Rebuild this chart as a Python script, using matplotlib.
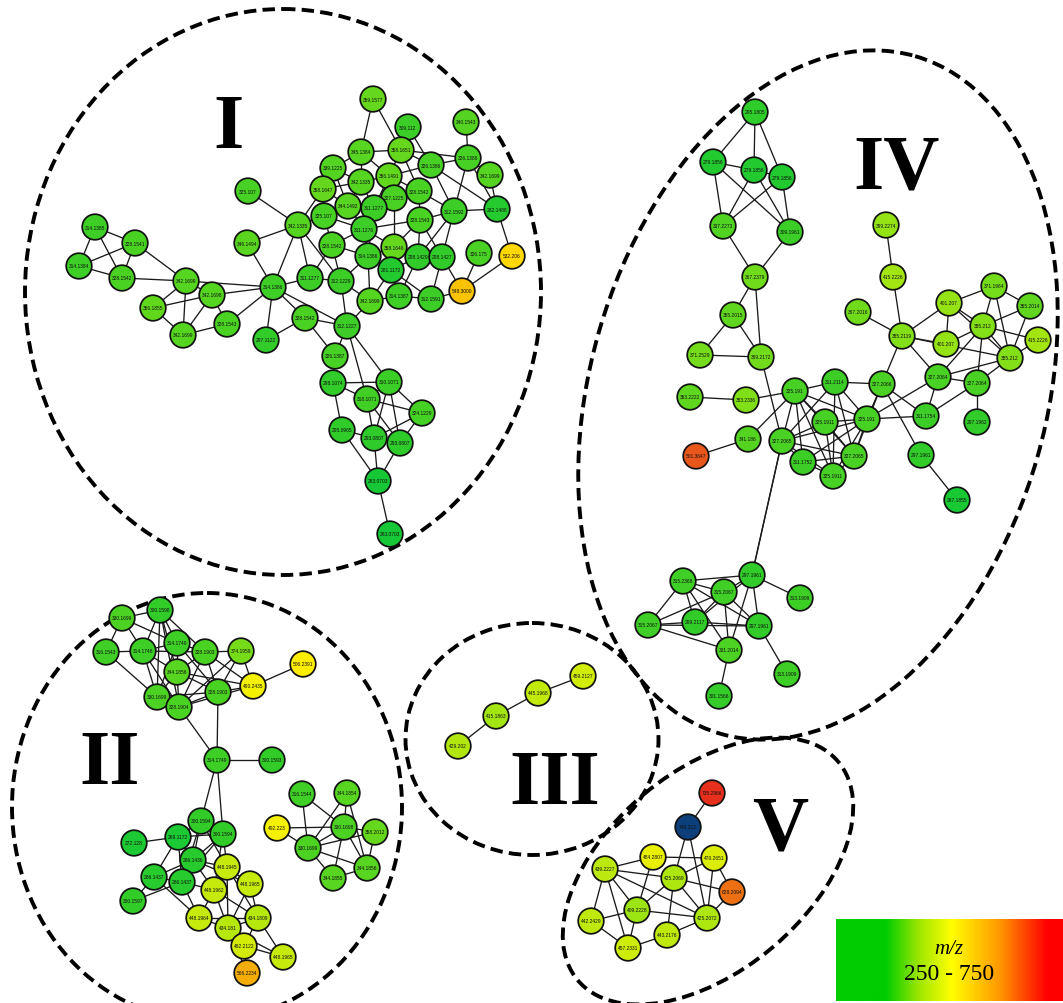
import matplotlib
matplotlib.use("Agg")
import matplotlib.pyplot as plt
from matplotlib.patches import Ellipse, Circle
from matplotlib.colors import LinearSegmentedColormap, Normalize
import numpy as np

# ---------------- data ----------------
# Cluster I
I_labels = ["314.1385","328.1541","314.1384","328.1542","342.1699","342.1698","356.1855","328.1543","342.1699",
            "325.107","346.1494","342.1335","314.1386","311.1277","312.1229","328.1542","312.1227","297.1122",
            "359.1577","309.112","340.1543","345.1384","358.1651","326.1386","326.1386","342.1699","339.1225",
            "342.1335","356.1491","358.1647","328.1542","327.1225","344.1492","311.1277","312.1592","282.1488",
            "325.107","328.1543","311.1276","328.1542","358.1646","314.1386","298.1429","298.1427","326.175",
            "532.206","281.1172","548.3000","342.1699","314.1387","312.1591","326.1387","298.1074","310.1071",
            "318.1071","324.1229","295.0965","293.0807","293.0807","263.0703","263.0703"]
I_x = [95,135,79,122,186,212,153,227,183,248,247,298,273,310,341,305,347,266,373,408,466,361,401,431,468,490,333,
       361,389,323,419,394,348,374,454,497,324,420,364,332,394,368,418,442,479,512,391,462,370,399,431,335,333,389,
       367,422,342,374,400,378,390]
I_y = [228,244,267,279,282,296,309,325,336,192,244,226,288,279,282,319,327,341,100,128,123,153,151,166,159,176,169,
       183,177,190,192,199,207,209,212,210,217,221,230,246,248,257,258,258,254,257,271,292,302,297,300,357,384,383,
       400,414,431,439,444,482,535]
I_edges = [(1,2),(1,3),(1,4),(3,2),(3,4),(2,4),(2,5),(4,5),(5,6),(5,7),(5,9),(5,13),(6,7),(6,9),(6,8),(6,13),(7,9),
           (9,8),(8,13),(10,12),(11,12),(11,13),(12,13),(12,15),(13,14),(13,16),(13,18),(13,17),(14,15),(16,17),
           (16,18),(16,52),(17,52),(17,54),(17,55),(17,49),(15,17),(14,40),(15,42),(12,30),(12,37),(12,14),
           (19,22),(19,23),(20,23),(20,24),(21,25),(22,27),(22,23),(22,28),(22,29),(23,24),(23,25),(23,29),(23,31),
           (24,25),(24,29),(24,35),(25,26),(25,35),(25,36),(24,36),(26,36),(27,28),(27,30),(27,33),(28,29),(28,30),
           (28,33),(28,34),(29,31),(29,32),(29,34),(30,37),(30,33),(31,32),(31,38),(31,35),(32,34),(32,39),(32,41),
           (33,37),(33,34),(33,39),(34,39),(34,42),(35,36),(35,38),(35,43),(35,44),(36,46),(37,39),(37,40),(38,39),
           (38,43),(38,41),(38,44),(39,40),(39,42),(39,41),(40,42),(40,15),(41,42),(41,47),(41,43),(42,47),(42,49),
           (43,44),(43,47),(43,50),(44,51),(44,48),(45,48),(46,48),(47,49),(47,50),(47,51),(49,50),(50,51),(51,48),
           (15,49),(52,53),(53,54),(53,55),(53,57),(54,55),(54,56),(54,58),(54,59),(55,58),(55,59),(55,56),(56,58),
           (56,59),(57,58),(57,60),(58,59),(58,60),(59,60),(60,61)]

# Cluster IV
IV_labels = ["295.1805","279.1856","279.1856","279.1856","337.2273","309.1961","367.2379","355.2015","371.2529",
             "369.2172","399.2274","415.2226","367.2016","385.2119","401.207","401.207","371.1964","355.2014",
             "385.212","415.2226","385.212","327.2064","327.2064","297.1962","327.2066","311.2114","325.191",
             "353.2222","383.2336","311.1754","325.1911","325.191","341.186","327.2065","501.3647","327.2065",
             "297.1961","311.1752","325.1911","267.1855","315.2368","297.1961","315.2067","313.1909","315.2067",
             "299.2117","297.1961","331.2014","313.1909","301.1566"]
IV_x = [755,713,754,782,723,790,755,733,700,761,886,893,858,902,949,946,994,1030,983,1038,1010,938,977,977,882,835,
        795,690,746,926,825,867,748,782,696,854,921,803,833,957,683,752,724,800,648,695,759,729,787,719]
IV_y = [113,163,171,178,227,233,278,316,356,358,226,278,313,337,304,345,287,307,327,341,359,378,384,423,385,383,
        392,398,401,417,423,420,440,442,457,457,456,463,477,501,582,576,593,599,626,623,627,651,675,697]
IV_edges = [(1,2),(1,3),(1,4),(2,3),(2,5),(2,6),(3,4),(3,5),(3,6),(4,5),(4,6),(5,7),(6,7),(7,8),(7,10),(8,9),(8,10),
            (9,10),(10,34),(11,12),(12,14),(13,14),(14,15),(14,16),(14,21),(14,22),(14,25),(15,16),(15,17),(15,19),
            (15,21),(16,19),(17,18),(17,19),(17,21),(18,19),(18,21),(19,20),(19,21),(19,22),(19,23),(20,21),(21,22),
            (21,23),(22,23),(22,30),(22,32),(23,24),(23,30),(25,26),(25,32),(25,36),(25,30),(25,37),(26,27),(26,32),
            (26,39),(26,36),(26,34),(27,29),(27,31),(27,32),(27,33),(27,34),(27,36),(27,38),(27,39),(28,29),(31,32),
            (31,34),(31,36),(31,39),(32,34),(32,36),(32,38),(32,39),(32,30),(33,35),(34,36),(34,38),(34,39),(36,38),
            (36,39),(38,39),(34,42),(37,40),(41,42),(41,43),(41,45),(41,46),(41,47),(41,48),(42,43),(42,44),(42,46),
            (42,47),(42,48),(43,45),(43,46),(43,47),(43,48),(45,46),(45,47),(45,48),(46,47),(47,49),(48,50)]

# Cluster II
II_labels = ["330.1699","300.1598","316.1543","314.1748","314.1749","328.1903","374.1959","506.2391","344.1856",
             "490.2435","330.1699","328.1903","328.1904","314.1749","300.1593","316.1544","344.1854","300.1594",
             "492.223","330.1698","358.2012","269.1172","300.1594","272.128","330.1699","286.1436","448.1945",
             "286.1437","286.1437","448.1962","448.1965","344.1856","344.1855","300.1597","448.1964","434.1809",
             "434.181","462.2122","448.1965","566.2234"]
II_x = [122,160,106,143,177,205,241,303,177,253,157,218,179,217,272,302,347,201,277,344,375,178,223,134,308,193,
        227,154,182,214,250,367,333,133,199,258,228,244,283,247]
II_y = [619,611,653,652,644,653,652,665,673,687,698,693,708,761,761,795,794,822,829,828,833,838,835,844,849,861,
        868,878,883,891,885,869,879,902,919,919,929,947,958,974]
II_edges = [(1,2),(1,4),(1,5),(2,4),(2,5),(2,9),(2,11),(2,13),(2,6),(3,4),(3,1),(3,11),(4,5),(4,6),(4,9),(4,11),
            (4,13),(5,6),(5,9),(5,11),(5,12),(6,7),(6,9),(6,12),(6,13),(6,10),(7,12),(7,10),(7,13),(9,11),(9,12),
            (9,13),(9,10),(10,8),(10,12),(10,13),(11,13),(11,12),(12,13),(12,14),(13,14),(14,15),(14,18),(14,23),
            (18,22),(18,23),(18,26),(18,27),(18,29),(22,23),(22,24),(22,26),(22,28),(22,29),(23,26),(23,27),(23,29),
            (23,30),(26,27),(26,28),(26,29),(26,30),(26,31),(27,30),(27,31),(27,36),(27,37),(28,29),(28,34),(28,35),
            (29,34),(29,30),(29,35),(30,35),(30,37),(30,36),(31,36),(31,37),(35,36),(35,37),(36,37),(36,38),(36,39),
            (37,38),(37,39),(38,39),(38,40),(37,40),(16,20),(16,25),(17,20),(17,25),(17,32),(19,20),(19,25),(20,25),
            (20,21),(20,33),(20,32),(21,25),(21,32),(25,33),(25,32),(32,33)]

# Cluster III
III_labels = ["459.2127","445.1968","415.1863","429.202"]
III_x = [583,538,496,458]
III_y = [677,694,717,747]
III_edges = [(1,2),(2,3),(3,4)]

# Cluster V
V_labels = ["735.2966","749.212","484.2807","470.2651","439.2227","425.2069","628.2094","409.2228","442.2429",
            "425.2072","443.2176","457.2331"]
V_x = [712,688,653,714,605,674,732,637,591,707,667,628]
V_y = [794,828,858,859,870,879,893,911,922,919,936,949]
V_edges = [(1,2),(2,6),(2,10),(3,4),(3,5),(3,8),(4,6),(4,7),(4,10),(5,6),(5,8),(5,9),(5,10),(5,12),(6,7),(6,8),
           (6,10),(6,11),(7,10),(8,9),(8,10),(8,12),(9,12),(10,11),(11,12)]

# nodes whose fill departs from the m/z scale
color_override = {"749.212": "#0d3f7a", "501.3647": "#e8561c"}

roman = ["I", "IV", "II", "III", "V"]
legend_title = "m/z"
legend_range = "250 - 750"

# ---------------- drawing ----------------
W, H = 1063, 1004
fig = plt.figure(figsize=(W / 100, H / 100), dpi=100)
ax = fig.add_axes([0, 0, 1, 1])
ax.set_xlim(0, W)
ax.set_ylim(H, 0)
ax.axis("off")

node_cmap = LinearSegmentedColormap.from_list("mz", [
    (0.00, (0.05, 0.78, 0.22)),
    (0.10, (0.20, 0.80, 0.16)),
    (0.20, (0.36, 0.84, 0.12)),
    (0.30, (0.58, 0.89, 0.08)),
    (0.40, (0.78, 0.92, 0.04)),
    (0.47, (0.92, 0.94, 0.00)),
    (0.50, (1.00, 0.95, 0.00)),
    (0.56, (1.00, 0.86, 0.00)),
    (0.62, (0.96, 0.70, 0.02)),
    (0.75, (0.93, 0.45, 0.07)),
    (1.00, (0.90, 0.15, 0.12)),
])
norm = Normalize(250, 750)

clusters = [(I_labels, I_x, I_y, I_edges), (IV_labels, IV_x, IV_y, IV_edges),
            (II_labels, II_x, II_y, II_edges), (III_labels, III_x, III_y, III_edges),
            (V_labels, V_x, V_y, V_edges)]

R = 12.8
for labels, xs, ys, edges in clusters:
    for a, b in edges:
        ax.plot([xs[a - 1], xs[b - 1]], [ys[a - 1], ys[b - 1]], color="#1a1a1a", lw=0.95, zorder=2,
                solid_capstyle="round")
# inter-cluster link
ax.plot([IV_x[33], IV_x[41]], [IV_y[33], IV_y[41]], color="#1a1a1a", lw=0.95, zorder=2)

for labels, xs, ys, edges in clusters:
    for lab, x, y in zip(labels, xs, ys):
        col = color_override.get(lab, node_cmap(norm(float(lab))))
        ax.add_patch(Circle((x, y), R, facecolor=col, edgecolor="#111111", lw=1.25, zorder=3))
        ax.text(x, y, lab, fontsize=3.5, ha="center", va="center", color="#111111",
                family="Liberation Sans", zorder=4)

# dashed cluster outlines
ell_kw = dict(fill=False, edgecolor="black", lw=2.8, linestyle=(0, (3.2, 1.6)), zorder=1)
ax.add_patch(Ellipse((283, 293), 516, 566, angle=0, **ell_kw))
ax.add_patch(Ellipse((818, 396), 456, 705, angle=16, **ell_kw))
ax.add_patch(Ellipse((207, 808), 390, 428, angle=0, **ell_kw))
ax.add_patch(Ellipse((532, 740), 253, 232, angle=0, **ell_kw))
ax.add_patch(Ellipse((708, 872), 340, 200, angle=-40, **ell_kw))

# roman numerals
rpos = [(228, 148), (897, 188), (110, 784), (555, 804), (780, 850)]
for t, (x, y) in zip(roman, rpos):
    ax.text(x, y, t, fontsize=56, fontweight="bold", family="Liberation Serif", ha="center",
            va="baseline", color="black", zorder=5)

# legend gradient
leg_cmap = LinearSegmentedColormap.from_list("leg", [
    (0.00, (0.0, 0.80, 0.0)), (0.22, (0.0, 0.80, 0.0)), (0.36, (0.60, 0.90, 0.0)),
    (0.51, (1.0, 1.0, 0.0)), (0.72, (1.0, 0.60, 0.0)), (0.93, (1.0, 0.0, 0.0)), (1.00, (1.0, 0.0, 0.0))])
grad = np.linspace(0, 1, 256).reshape(1, -1)
ax.imshow(grad, cmap=leg_cmap, aspect="auto", extent=(836, 1063, 1002, 920), zorder=6)
ax.set_xlim(0, W)
ax.set_ylim(H, 0)
ax.text(949, 950, legend_title, fontsize=15, style="italic", family="Liberation Serif",
        ha="center", va="center", zorder=7)
ax.text(949, 975, legend_range, fontsize=17, family="Liberation Serif",
        ha="center", va="center", zorder=7)

fig.savefig("out.png", dpi=100, facecolor="white")
